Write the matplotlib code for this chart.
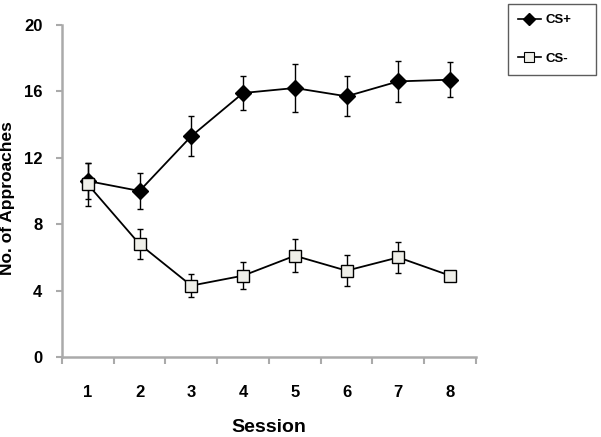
import numpy as np
import matplotlib
matplotlib.use("Agg")
import matplotlib.pyplot as plt
from matplotlib.lines import Line2D
from matplotlib.ticker import FixedLocator

sessions = [1, 2, 3, 4, 5, 6, 7, 8]
cs_plus = [10.6, 10.0, 13.3, 15.9, 16.2, 15.7, 16.6, 16.7]
cs_plus_err = [1.1, 1.1, 1.2, 1.05, 1.45, 1.2, 1.25, 1.05]
cs_minus = [10.4, 6.8, 4.3, 4.9, 6.1, 5.2, 6.0, 4.9]
cs_minus_err = [1.3, 0.9, 0.7, 0.8, 1.0, 0.95, 0.95, 0.3]
y_ticks = [0, 4, 8, 12, 16, 20]

plt.rcParams["font.family"] = ["Liberation Sans", "DejaVu Sans"]
plt.rcParams["font.weight"] = "bold"

fig = plt.figure(figsize=(6.01, 4.37), dpi=100)
ax = fig.add_axes([0.103, 0.183, 0.689, 0.760])

axis_gray = "#aaaaaa"
minus_face = "#efefe9"

ax.errorbar(sessions, cs_plus, yerr=cs_plus_err, color="black", lw=1.3,
            marker="D", ms=8, mfc="black", mec="black",
            ecolor="black", elinewidth=1.0, capsize=2.5, capthick=1.0,
            zorder=3)
ax.errorbar(sessions, cs_minus, yerr=cs_minus_err, color="black", lw=1.3,
            marker="s", ms=8.5, mfc=minus_face, mec="black", mew=1.0,
            ecolor="black", elinewidth=1.0, capsize=2.5, capthick=1.0,
            zorder=3)

ax.set_xlim(0.5, 8.5)
ax.set_ylim(0, 20)
ax.set_yticks(y_ticks)
ax.set_xticks(sessions)
ax.xaxis.set_minor_locator(FixedLocator(np.arange(0.5, 9, 1)))

for side in ["top", "right"]:
    ax.spines[side].set_visible(False)
for side in ["left", "bottom"]:
    ax.spines[side].set_color(axis_gray)
    ax.spines[side].set_linewidth(1.8)

ax.tick_params(axis="x", which="major", length=0, pad=20, labelsize=12)
ax.tick_params(axis="x", which="minor", length=5, width=1.5, color=axis_gray, direction="out")
ax.tick_params(axis="y", length=4, width=1.5, color=axis_gray, pad=10, labelsize=12)
for lab in ax.get_xticklabels() + ax.get_yticklabels():
    lab.set_fontweight("bold")

ax.set_xlabel("Session", fontsize=14, fontweight="bold", labelpad=14)
ax.set_ylabel("No. of Approaches", fontsize=12.5, fontweight="bold")
ax.yaxis.set_label_coords(-0.114, 0.48)

# legend handles without the error bar glyphs
handles = [
    Line2D([], [], color="black", lw=1.2, marker="D", ms=6, mfc="black", mec="black"),
    Line2D([], [], color="black", lw=1.2, marker="s", ms=6.5, mfc=minus_face, mec="black", mew=0.8),
]
leg = ax.legend(handles, ["CS+", "CS-"], loc="upper left",
                bbox_to_anchor=(508 / 601, 1 - 79 / 437, 88 / 601, 75 / 437),
                bbox_transform=fig.transFigure, mode="expand", borderaxespad=0,
                fontsize=9.5, labelspacing=2.0, handlelength=1.75,
                handletextpad=0.35, borderpad=0.75, fancybox=False,
                edgecolor="#333333")
leg.get_frame().set_linewidth(1.0)

fig.savefig("out.png", dpi=100)
